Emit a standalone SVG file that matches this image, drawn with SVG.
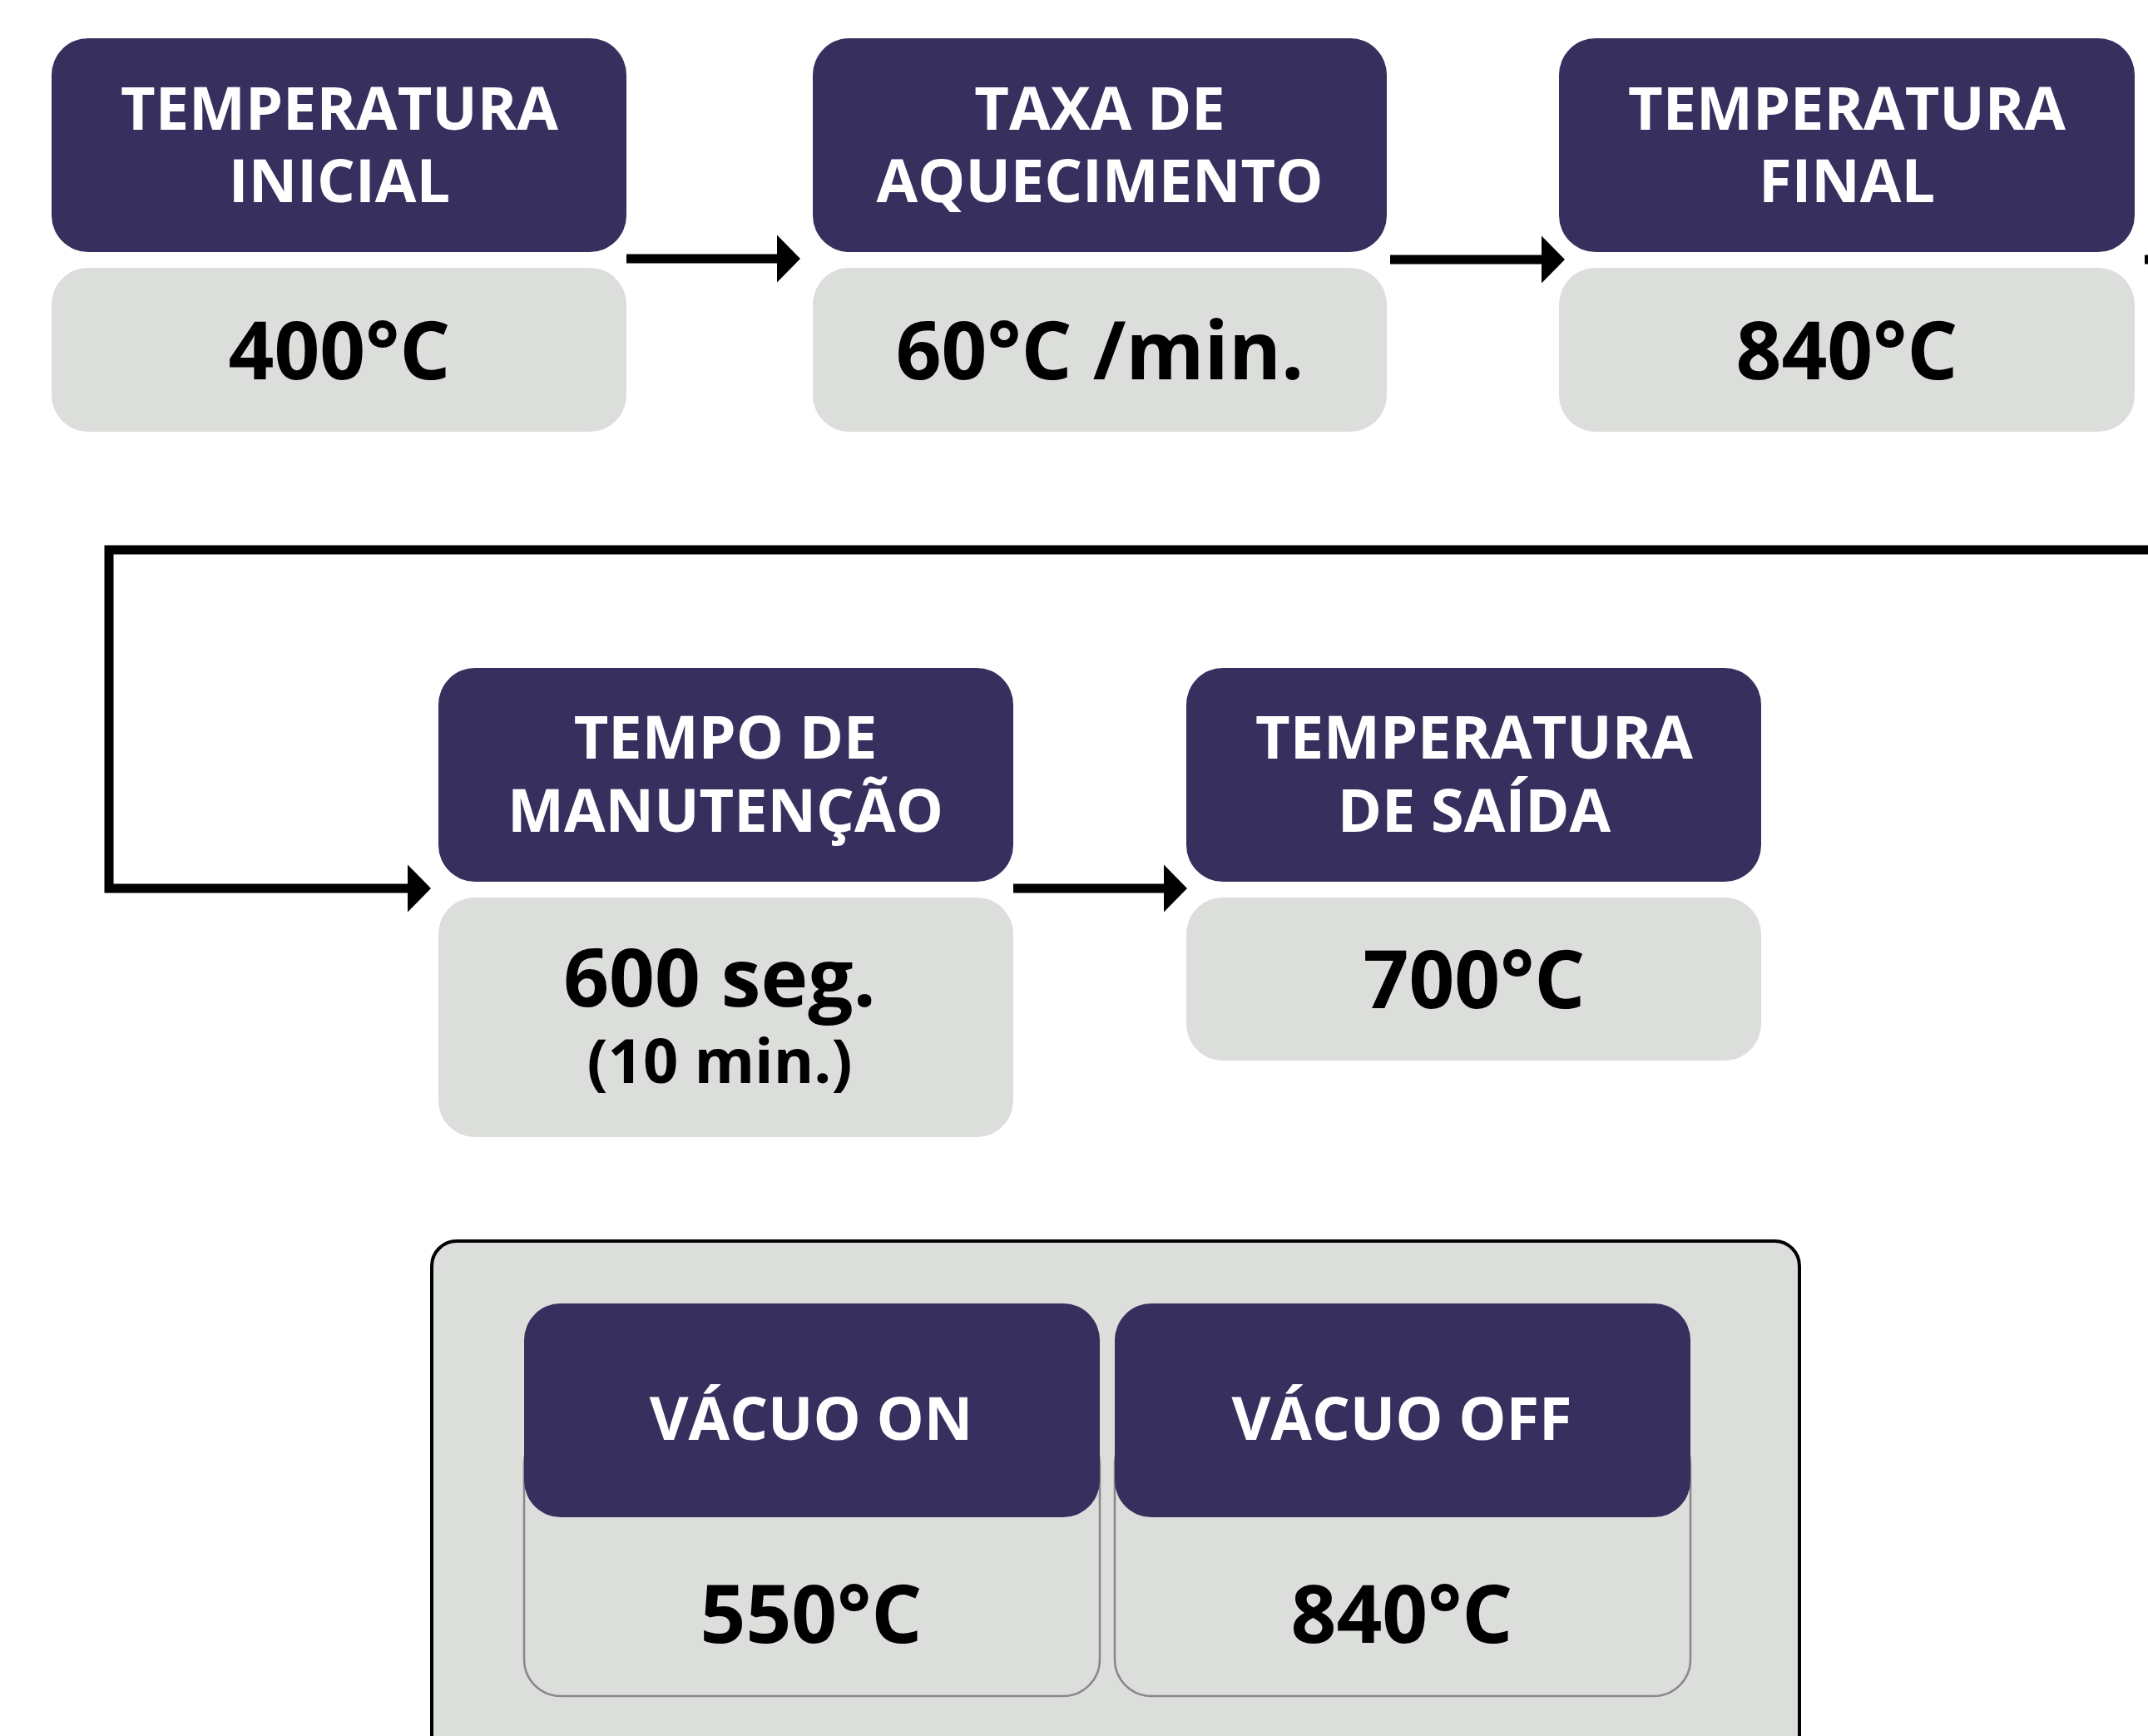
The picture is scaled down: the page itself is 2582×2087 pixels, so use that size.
<svg xmlns="http://www.w3.org/2000/svg" width="2582" height="2087" viewBox="0 0 2582 2087">
<style>
.hdr{fill:#372f5e}
.val{fill:#dcdedb}
.ht{font-family:"Open Sans","Noto Sans",sans-serif;font-weight:700;font-size:72px;fill:#fff;text-anchor:middle}
.vt{font-family:"Open Sans","Noto Sans",sans-serif;font-weight:700;font-size:96px;fill:#000;text-anchor:middle}
.conn{stroke:#000;stroke-width:11;fill:none;stroke-linejoin:miter}
.outl{fill:#dcdedb;stroke:#888;stroke-width:2.5}
</style>
<defs>
<marker id="arr" markerUnits="userSpaceOnUse" markerWidth="30" markerHeight="58" refX="0" refY="28.5" orient="auto" overflow="visible">
<path d="M0,0 L28,28.5 L0,57 Z" fill="#000"/>
</marker>
</defs>
<rect width="2582" height="2087" fill="#fff"/>
<g id="connectors">
<path class="conn" d="M753,311 H934" marker-end="url(#arr)"/>
<path class="conn" d="M1671,312 H1853" marker-end="url(#arr)"/>
<path class="conn" d="M2578,312 H2640 V661 H131 V1068 H490" marker-end="url(#arr)"/>
<path class="conn" d="M1218,1068 H1399" marker-end="url(#arr)"/>
</g>
<g id="n1">
<rect class="hdr" x="62" y="46" width="691" height="257" rx="44"/>
<rect class="val" x="62" y="322" width="691" height="197" rx="44"/>
<text class="ht" x="408" y="156">TEMPERATURA</text>
<text class="ht" x="408" y="243">INICIAL</text>
<text class="vt" x="408" y="456">400°C</text>
</g>
<g id="n2">
<rect class="hdr" x="977" y="46" width="690" height="257" rx="44"/>
<rect class="val" x="977" y="322" width="690" height="197" rx="44"/>
<text class="ht" x="1322" y="156">TAXA DE</text>
<text class="ht" x="1322" y="243">AQUECIMENTO</text>
<text class="vt" x="1322" y="456">60°C /min.</text>
</g>
<g id="n3">
<rect class="hdr" x="1874" y="46" width="692" height="257" rx="44"/>
<rect class="val" x="1874" y="322" width="692" height="197" rx="44"/>
<text class="ht" x="2220" y="156">TEMPERATURA</text>
<text class="ht" x="2220" y="243">FINAL</text>
<text class="vt" x="2220" y="456">840°C</text>
</g>
<g id="n4">
<rect class="hdr" x="527" y="803" width="691" height="257" rx="44"/>
<rect class="val" x="527" y="1079" width="691" height="288" rx="44"/>
<text class="ht" x="872" y="912">TEMPO DE</text>
<text class="ht" x="872" y="1000">MANUTENÇÃO</text>
<text class="vt" x="865" y="1210">600 seg.</text>
<text class="vt" x="865" y="1302" style="font-size:74px">(10 min.)</text>
</g>
<g id="n5">
<rect class="hdr" x="1426" y="803" width="691" height="257" rx="44"/>
<rect class="val" x="1426" y="1079" width="691" height="196" rx="44"/>
<text class="ht" x="1772" y="912">TEMPERATURA</text>
<text class="ht" x="1772" y="1000">DE SAÍDA</text>
<text class="vt" x="1772" y="1212">700°C</text>
</g>
<g id="vacuum-panel">
<rect x="519" y="1492" width="1644" height="720" rx="30" fill="#dcdedb" stroke="#000" stroke-width="4"/>
</g>
<g id="v1">
<rect class="outl" x="630" y="1716" width="692" height="323" rx="44"/>
<rect class="hdr" x="630" y="1567" width="692" height="257" rx="44"/>
<text class="ht" x="975" y="1731">VÁCUO ON</text>
<text class="vt" x="975" y="1975">550°C</text>
</g>
<g id="v2">
<rect class="outl" x="1340" y="1716" width="692" height="323" rx="44"/>
<rect class="hdr" x="1340" y="1567" width="692" height="257" rx="44"/>
<text class="ht" x="1685" y="1731">VÁCUO OFF</text>
<text class="vt" x="1685" y="1975">840°C</text>
</g>
</svg>
